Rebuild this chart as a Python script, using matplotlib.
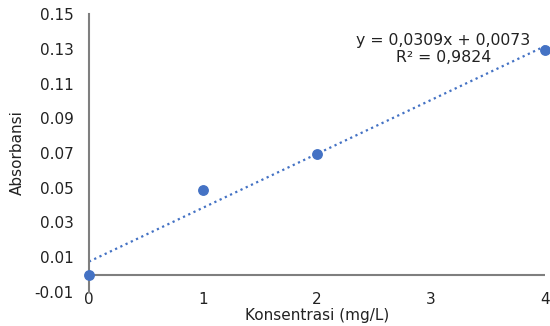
import numpy as np
import matplotlib
matplotlib.use("Agg")
import matplotlib.pyplot as plt

konsentrasi = [0, 1, 2, 4]
absorbansi = [0.0, 0.0485, 0.0695, 0.1290]
y_ticks = [-0.01, 0.01, 0.03, 0.05, 0.07, 0.09, 0.11, 0.13, 0.15]
x_ticks = [0, 1, 2, 3, 4]
eq_text = "y = 0,0309x + 0,0073"
r2_text = "R² = 0,9824"

blue = "#4472C4"
gray = "#7F7F7F"
txt = "#222222"

fig = plt.figure(figsize=(5.5, 3.26), dpi=100)
ax = fig.add_axes([89/550, 1-292/326, (545-89)/550, (292-14)/326])
ax.set_xlim(0, 4)
ax.set_ylim(-0.01, 0.15)

slope, intercept = np.polyfit(konsentrasi, absorbansi, 1)
xs = np.array([0, 4])
ax.plot(xs, slope*xs + intercept, linestyle=(0, (1, 1.6)), color=blue, lw=1.6, clip_on=False)
ax.plot(konsentrasi, absorbansi, 'o', color=blue, markersize=6.8, clip_on=False, zorder=5)

ax.axhline(0, color=gray, lw=1.5, zorder=1)
for s in ['top', 'right', 'bottom']:
    ax.spines[s].set_visible(False)
ax.spines['left'].set_color(gray)
ax.spines['left'].set_linewidth(1.5)

ax.set_yticks(y_ticks)
ax.set_yticklabels([f"{v:.2f}" for v in y_ticks])
ax.set_xticks(x_ticks)
ax.set_xticklabels([str(v) for v in x_ticks])
ax.tick_params(axis='y', length=0, pad=11, labelsize=11, labelcolor=txt)
ax.tick_params(axis='x', length=0, pad=0, labelsize=11, labelcolor=txt)

ax.set_xlabel("Konsentrasi (mg/L)", fontsize=11, labelpad=1, color=txt)
ax.set_ylabel("Absorbansi", fontsize=11, labelpad=7, color=txt)

fig.text(443/550, 1-40/326, eq_text, ha='center', va='center', fontsize=11.3, color=txt)
fig.text(444/550, 1-57/326, r2_text, ha='center', va='center', fontsize=11.3, color=txt)

fig.savefig("out.png", dpi=100)
